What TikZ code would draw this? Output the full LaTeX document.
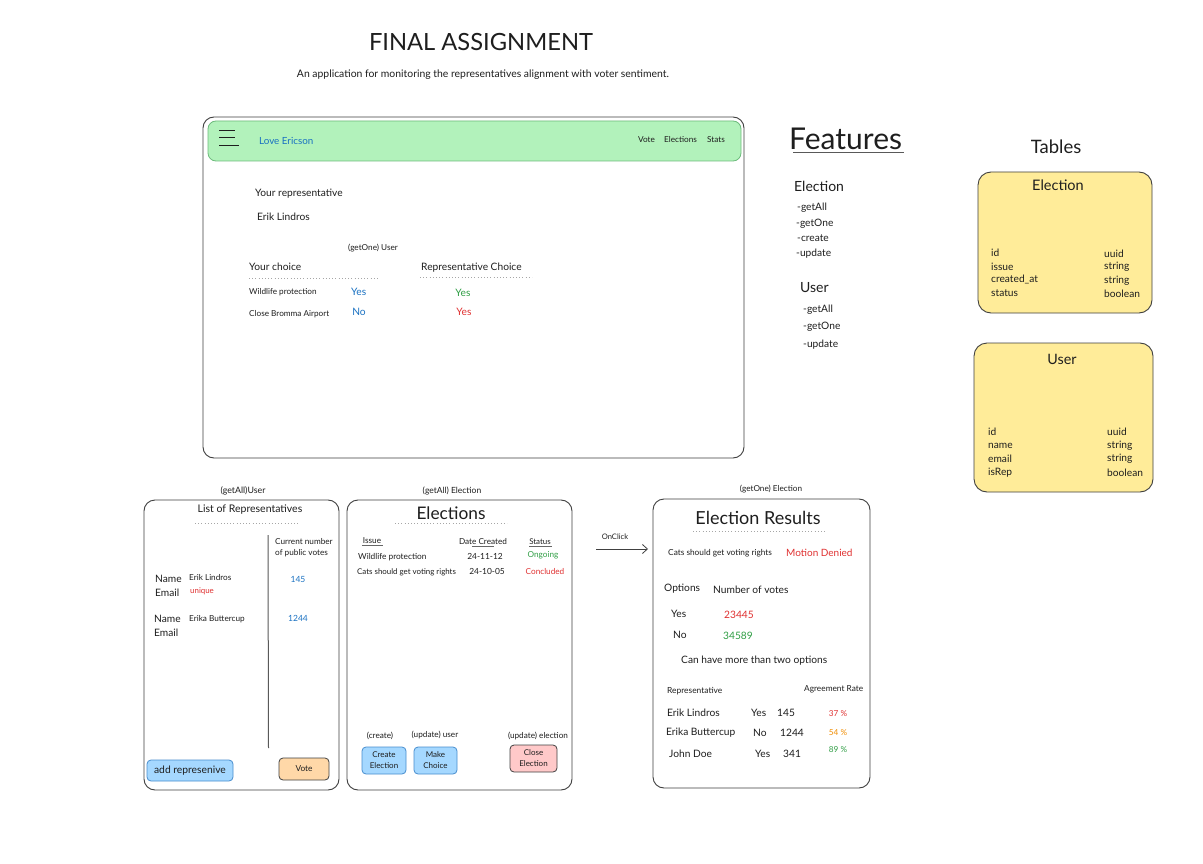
\documentclass[tikz,border=0pt]{standalone}
\usepackage{fontspec}
\setmainfont{Lato}
\usetikzlibrary{arrows.meta}
\definecolor{ink}{HTML}{1E1E1E}
\definecolor{cblue}{HTML}{1971C2}
\definecolor{cgreen}{HTML}{2F9E44}
\definecolor{cred}{HTML}{E03131}
\definecolor{corange}{HTML}{F08C00}
\definecolor{hdrfill}{HTML}{B2F2BB}
\definecolor{tblfill}{HTML}{FFEC99}
\definecolor{bluefill}{HTML}{A5D8FF}
\definecolor{orfill}{HTML}{FFD8A8}
\definecolor{redfill}{HTML}{FFC9C9}
\tikzset{
  txt/.style={inner sep=0pt, text=ink, font=\fontsize{10.2}{12}\selectfont},
  xs/.style={txt, font=\fontsize{8.2}{11}\selectfont},
  sm/.style={txt, font=\fontsize{10.2}{12}\selectfont},
  med/.style={txt, font=\fontsize{14}{16}\selectfont},
  big/.style={txt, font=\fontsize{18}{20}\selectfont},
  lt/.style={anchor=west},
  panel/.style={draw=ink!85, line width=0.9pt, rounded corners=11pt, inner sep=0pt},
  tbl/.style={panel, fill=tblfill, rounded corners=13pt},
  btn/.style={draw, line width=0.8pt, rounded corners=4pt, inner sep=0pt, align=center, text=ink, font=\fontsize{8}{11}\selectfont},
  dots/.style={draw=gray!70, line width=0.8pt, dash pattern=on 0.6pt off 2.6pt},
  uline/.style={draw=gray!80!black, line width=1pt},
}
\begin{document}
\begin{tikzpicture}[x=1pt,y=-1pt]
\useasboundingbox[fill=white] (0,0) rectangle (1203,864);

% title
\node[txt, font=\fontsize{23.7}{26}\selectfont] (title) at (481,42) {FINAL ASSIGNMENT};
\node[txt, font=\fontsize{10.4}{12}\selectfont] (subtitle) at (483,75) {An application for monitoring the representatives alignment with voter sentiment.};

% main app panel
\node[panel, minimum width=541pt, minimum height=341pt] (main) at (473.5,287.5) {};
\node[draw=cgreen!70, fill=hdrfill, line width=0.8pt, rounded corners=8pt, minimum width=533pt, minimum height=40pt, inner sep=0pt] (hdr) at (474.5,141) {};
\draw[ink, line width=0.9pt] (219,130.7) -- (235,130.7) (219,137.7) -- (235,137.7) (219,145.7) -- (239,145.7);
\node[sm, lt, text=cblue, font=\fontsize{9.8}{12}\selectfont] (love) at (259,140.5) {Love Ericson};
\node[xs, lt] (navvote) at (638,140) {Vote};
\node[xs, lt] (navel) at (664,140) {Elections};
\node[xs, lt] (navst) at (707,140) {Stats};

\node[sm, lt] (yourrep) at (255,193.5) {Your representative};
\node[sm, lt] (erik) at (257,216.5) {Erik Lindros};
\node[xs] (getoneuser) at (373,248) {(getOne) User};
\node[sm, lt] (yourchoice) at (249,267) {Your choice};
\draw[dots] (249,278.5) -- (378,278.5);
\node[sm, lt] (repchoice) at (421,268) {Representative Choice};
\draw[dots] (420,277.5) -- (532,277.5);
\node[xs, lt] (wild) at (249,292.5) {Wildlife protection};
\node[sm, lt, text=cblue] (y1) at (351,292) {Yes};
\node[sm, text=cgreen] (ry1) at (463,293) {Yes};
\node[xs, lt] (bromma) at (249,314.5) {Close Bromma Airport};
\node[sm, text=cblue] (n1) at (359,311.5) {No};
\node[sm, text=cred] (ry2) at (464,312) {Yes};

% features
\node[txt, lt, font=\fontsize{30}{32}\selectfont] (features) at (789,139) {Features};
\draw[uline, gray!70!black] (793,152.5) -- (904,152.5);
\node[med, lt] (fel) at (794,186.5) {Election};
\node[sm, lt] (fe1) at (797,207.5) {-getAll};
\node[sm, lt] (fe2) at (796,223.5) {-getOne};
\node[sm, lt] (fe3) at (797,238.5) {-create};
\node[sm, lt] (fe4) at (796,253.5) {-update};
\node[med, lt] (fus) at (800,287.5) {User};
\node[sm, lt] (fu1) at (803,309.5) {-getAll};
\node[sm, lt] (fu2) at (803,327) {-getOne};
\node[sm, lt] (fu3) at (803,344.5) {-update};

% tables
\node[txt, font=\fontsize{18.5}{20}\selectfont] (tables) at (1056,147) {Tables};
\node[tbl, minimum width=174pt, minimum height=141pt] (telec) at (1065,242.5) {};
\node[med, font=\fontsize{14.5}{16}\selectfont] (telect) at (1058,185.5) {Election};
\node[sm, lt] (te1) at (991,252.5) {id};
\node[sm, lt] (te2) at (991,266.5) {issue};
\node[sm, lt] (te3) at (991,279) {created\_at};
\node[sm, lt] (te4) at (991,293) {status};
\node[sm, lt] (te5) at (1104,253.5) {uuid};
\node[sm, lt] (te6) at (1104,267) {string};
\node[sm, lt] (te7) at (1104,280.5) {string};
\node[sm, lt] (te8) at (1104,294) {boolean};

\node[tbl, minimum width=179pt, minimum height=149pt] (tuser) at (1063.5,417.5) {};
\node[med, font=\fontsize{14.3}{16}\selectfont] (tusert) at (1062,359.5) {User};
\node[sm, lt] (tu1) at (988,431.5) {id};
\node[sm, lt] (tu2) at (988,445.5) {name};
\node[sm, lt] (tu3) at (988,459) {email};
\node[sm, lt] (tu4) at (988,472.5) {isRep};
\node[sm, lt] (tu5) at (1107,431.5) {uuid};
\node[sm, lt] (tu6) at (1107,445.5) {string};
\node[sm, lt] (tu7) at (1107,459) {string};
\node[sm, lt] (tu8) at (1107,473) {boolean};

% list of representatives
\node[xs, font=\fontsize{8.8}{11}\selectfont] (getalluser) at (243,491) {(getAll)User};
\node[panel, minimum width=195pt, minimum height=290pt] (list) at (241.5,645) {};
\node[sm, font=\fontsize{10.5}{12}\selectfont] (listt) at (250,509.5) {List of Representatives};
\draw[dots] (195,523.5) -- (298,523.5);
\draw[gray!70!black, line width=1pt] (268,535) -- (268.5,748);
\node[xs, lt, align=left] (curnum) at (275,547.5) {Current number\\of public votes};
\node[sm, lt] (name1) at (155,578.5) {Name};
\node[xs, lt] (erikl) at (189,578) {Erik Lindros};
\node[xs, text=cblue, font=\fontsize{8.5}{11}\selectfont] (v145) at (298,579) {145};
\node[sm, lt] (email1) at (155,592.5) {Email};
\node[xs, lt, text=cred, font=\fontsize{7.9}{10}\selectfont] (uniq) at (190,591) {unique};
\node[sm, lt] (name2) at (154,618.5) {Name};
\node[xs, lt] (erika) at (189,619) {Erika Buttercup};
\node[xs, text=cblue, font=\fontsize{8.5}{11}\selectfont] (v1244) at (298,618) {1244};
\node[sm, lt] (email2) at (154,632.5) {Email};
\node[btn, draw=cblue!80, fill=bluefill, minimum width=86pt, minimum height=21pt, font=\fontsize{10.3}{12}\selectfont] (addrep) at (190,770.5) {add represenive};
\node[btn, draw=ink!85, fill=orfill, minimum width=50pt, minimum height=22pt, font=\fontsize{8.3}{10}\selectfont] (votebtn) at (304,769) {Vote};

% elections list
\node[xs, font=\fontsize{8.5}{11}\selectfont] (getallel) at (452,491) {(getAll) Election};
\node[panel, minimum width=225pt, minimum height=290pt] (elist) at (459.5,645) {};
\node[big, font=\fontsize{17.3}{19}\selectfont] (elt) at (451,513) {Elections};
\draw[dots] (395,523.5) -- (507,523.5);
\node[xs] (issue) at (372,541) {Issue};
\draw[uline] (362,545.5) -- (383,545.5);
\node[xs] (datec) at (483,542) {Date Created};
\draw[uline] (472,546.5) -- (494,546.5);
\node[xs, font=\fontsize{7.9}{10}\selectfont] (status) at (540,541.5) {Status};
\draw[uline] (529,546) -- (552,546);
\node[xs, lt, font=\fontsize{8.3}{10}\selectfont] (ewild) at (358,557) {Wildlife protection};
\node[xs, font=\fontsize{8.4}{10}\selectfont] (d1) at (485,556) {24-11-12};
\node[xs, text=cgreen] (ongo) at (543,555.5) {Ongoing};
\node[xs, lt, font=\fontsize{7.9}{10}\selectfont] (ecats) at (357,572) {Cats should get voting rights};
\node[xs, font=\fontsize{8.4}{10}\selectfont] (d2) at (487,571.5) {24-10-05};
\node[xs, text=cred] (concl) at (545,571.5) {Concluded};
\node[xs] (lcreate) at (380,735.5) {(create)};
\node[xs] (lupuser) at (435,735.5) {(update) user};
\node[xs] (lupel) at (538,736.5) {(update) election};
\node[btn, draw=cblue!80, fill=bluefill, minimum width=44pt, minimum height=27pt] (bcreate) at (384,760.5) {Create\\Election};
\node[btn, draw=cblue!80, fill=bluefill, minimum width=43pt, minimum height=27pt] (bmake) at (435.5,760.5) {Make\\Choice};
\node[btn, draw=ink!85, fill=redfill, minimum width=47pt, minimum height=27pt] (bclose) at (533.5,758.5) {Close\\Election};

% onclick arrow
\node[xs, font=\fontsize{7.6}{10}\selectfont] (onclick) at (615,536.5) {OnClick};
\coordinate (ocs) at (596,549);
\coordinate (oce) at (648,549);
\draw[ink!85, line width=0.8pt, -{Straight Barb[length=5pt,width=9pt]}] (ocs) -- (oce);

% election results
\node[xs] (getoneel) at (771,489.5) {(getOne) Election};
\node[panel, minimum width=217pt, minimum height=289pt] (res) at (761.5,643.5) {};
\node[big] (rest) at (758,518) {Election Results};
\draw[dots] (693,531.5) -- (826,531.5);
\node[xs, lt, font=\fontsize{8.3}{10}\selectfont] (rcats) at (668,553) {Cats should get voting rights};
\node[sm, lt, text=cred, font=\fontsize{10}{12}\selectfont] (motion) at (786,552.5) {Motion Denied};
\node[sm, lt] (opts) at (664,589) {Options};
\node[sm, lt] (nvotes) at (713,590) {Number of votes};
\node[sm, lt] (ryes) at (671,614) {Yes};
\node[sm, lt, text=cred] (r23) at (724,614.5) {23445};
\node[sm, lt] (rno) at (673,635) {No};
\node[sm, lt, text=cgreen] (r34) at (723,635.5) {34589};
\node[sm, lt] (more) at (681,661) {Can have more than two options};
\node[xs, lt, font=\fontsize{8.4}{10}\selectfont] (rrep) at (667,691.5) {Representative};
\node[xs, lt, font=\fontsize{8.3}{10}\selectfont] (ragr) at (804,689.5) {Agreement Rate};
\node[sm, lt] (p1) at (667,713) {Erik Lindros};
\node[sm, lt] (p1c) at (751,713) {Yes};
\node[sm, lt] (p1n) at (777,713) {145};
\node[xs, text=cred] (p1r) at (838,713.5) {37 \%};
\node[sm, lt] (p2) at (666,733) {Erika Buttercup};
\node[sm, lt] (p2c) at (753,733) {No};
\node[sm, lt] (p2n) at (780,733) {1244};
\node[xs, text=corange] (p2r) at (838,732.5) {54 \%};
\node[sm, lt] (p3) at (669,754) {John Doe};
\node[sm, lt] (p3c) at (755,754) {Yes};
\node[sm, lt] (p3n) at (783,754) {341};
\node[xs, text=cgreen] (p3r) at (838,750) {89 \%};
\end{tikzpicture}
\end{document}
